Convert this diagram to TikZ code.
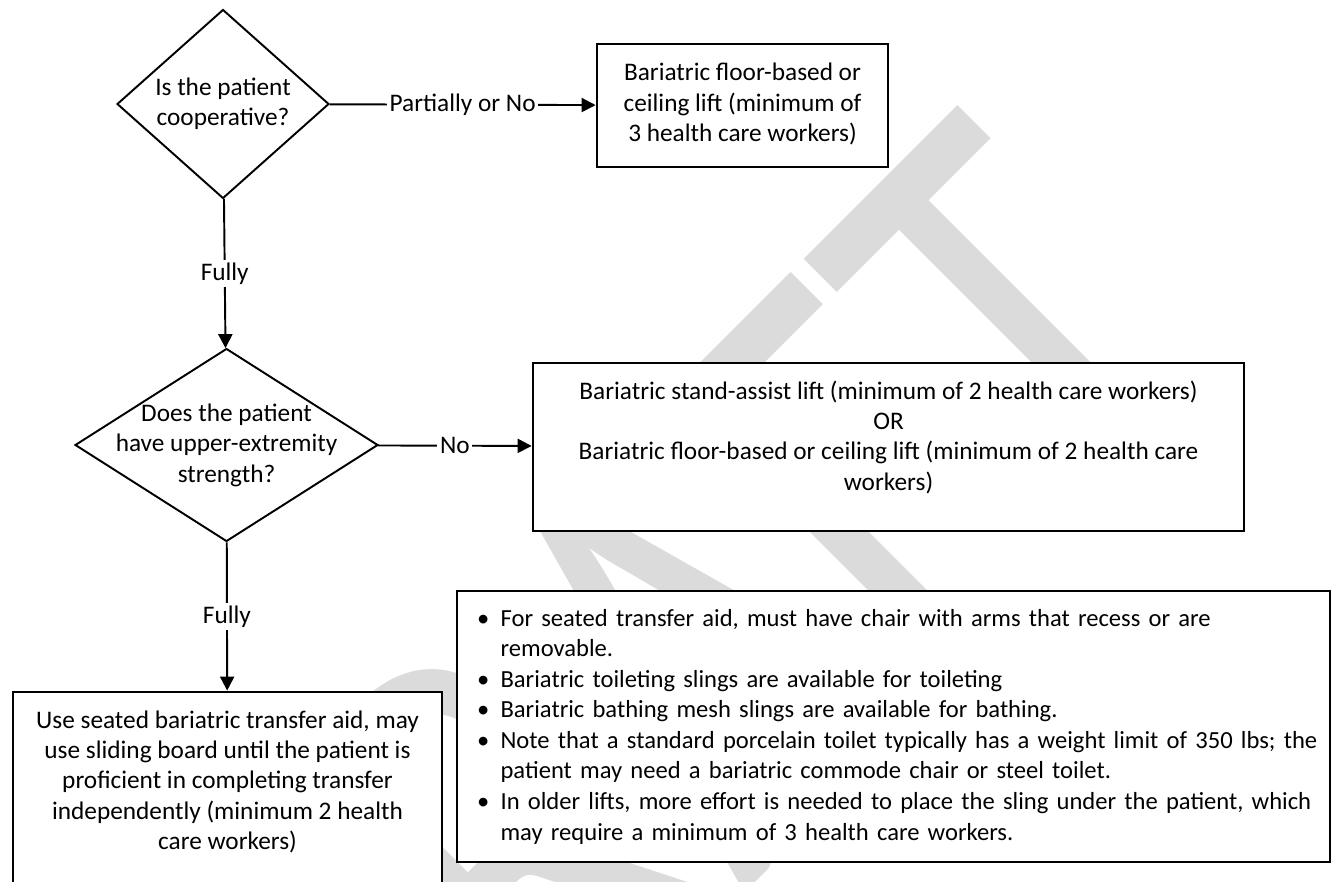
\documentclass[tikz,border=0pt]{standalone}
\usepackage{fontspec}
\setmainfont{Carlito}
\usetikzlibrary{shapes,arrows.meta,positioning}

\newcommand{\itm}[1]{\mbox{\makebox[0.47cm][l]{\textbullet}#1}}
\newcommand{\cont}[1]{\mbox{\hspace*{0.47cm}#1}}
\newcommand{\lowpad}[1]{\vrule width 0pt depth #1}

\begin{document}
\begin{tikzpicture}[x=0.02cm,y=-0.02cm,font=\fontsize{14.4}{17.3}\selectfont,>={Triangle[length=8pt,width=8pt]},
  decision/.style={draw=black,diamond,line width=1.1pt,fill=white,align=center,inner sep=-12pt},
  box/.style={draw=black,line width=1.6pt,fill=white,align=center,inner sep=0pt},
  flow/.style={->,line width=1.1pt},
  lbl/.style={fill=white,inner sep=1.5pt}]
    \useasboundingbox (0,0) rectangle (1332,882);
    % watermark, behind everything else
    \node[rotate=45,text=black!14,font=\fontsize{267}{267}\selectfont,inner sep=0pt] (wmark) at (661,690) {\scalebox{1}[1.35]{DRAFT}};

    % questions
    \node[decision,aspect=1.12,minimum width=4.24cm,minimum height=3.78cm] (coop) at (223,104) {Is the patient\\cooperative?};
    \node[decision,aspect=1.57,minimum width=6.06cm,minimum height=3.86cm] (upper) at (226.5,445) {Does the patient\\have upper-extremity\\strength?};

    % outcomes
    \node[box,minimum width=5.82cm,minimum height=2.46cm] (liftA) at (742.5,105.5) {Bariatric floor-based or\\ceiling lift (minimum of\\3 health care workers)\lowpad{0.12cm}};
    \node[box,minimum width=14.22cm,minimum height=3.36cm] (liftB) at (888.5,447) {Bariatric stand-assist lift (minimum of 2 health care workers)\\OR\\Bariatric floor-based or ceiling lift (minimum of 2 health care\\workers)\lowpad{0.46cm}};
    \node[box,minimum width=8.58cm,minimum height=4.76cm] (seated) at (227.5,811) {Use seated bariatric transfer aid, may\\use sliding board until the patient is\\proficient in completing transfer\\independently (minimum 2 health\\care workers)\lowpad{1.24cm}};

    % notes
    \node[box,align=left,text width=16.66cm,inner xsep=0.4cm,minimum height=5.42cm,font=\fontsize{14}{17.4}\selectfont] (notes) at (893.5,726.5) {%
      \itm{For seated transfer aid, must have chair with arms that recess or are}\\
      \cont{removable.}\\
      \itm{Bariatric toileting slings are available for toileting}\\
      \itm{Bariatric bathing mesh slings are available for bathing.}\\
      \itm{Note that a standard porcelain toilet typically has a weight limit of 350 lbs; the}\\
      \cont{patient may need a bariatric commode chair or steel toilet.}\\
      \itm{In older lifts, more effort is needed to place the sling under the patient, which}\\
      \cont{may require a minimum of 3 health care workers.}};

    \draw[flow] (coop) -- node[lbl]{Partially or No} (liftA);
    \draw[flow] (coop) -- node[lbl]{Fully} (upper);
    \draw[flow] (upper) -- node[lbl]{No} (liftB);
    \draw[flow] (upper) -- node[lbl]{Fully} (seated);
\end{tikzpicture}
\end{document}
